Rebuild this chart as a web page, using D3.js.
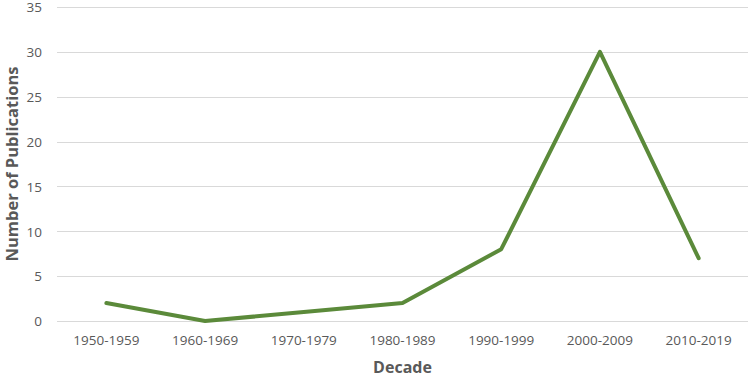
<!DOCTYPE html>
<html>
<head>
<meta charset="utf-8">
<script src="https://cdn.jsdelivr.net/npm/d3@7"></script>
<style>
  body { margin: 0; background: #fff; }
  text { font-family: "Open Sans", "Noto Sans", sans-serif; fill: #595959; }
</style>
</head>
<body>
<div id="chart"></div>
<script>
// data
const decades = ["1950-1959", "1960-1969", "1970-1979", "1980-1989", "1990-1999", "2000-2009", "2010-2019"];
const publications = [2, 0, 1, 2, 8, 30, 7];
const yTicks = [0, 5, 10, 15, 20, 25, 30, 35];

const width = 750, height = 378;
const margin = { top: 7, right: 2, bottom: 57, left: 57 };

const svg = d3.select("#chart").append("svg")
    .attr("width", width)
    .attr("height", height);

const x = d3.scaleBand()
    .domain(decades)
    .range([margin.left, width - margin.right]);

const y = d3.scaleLinear()
    .domain([0, 35])
    .range([height - margin.bottom, margin.top]);

// gridlines
svg.append("g")
    .selectAll("line")
    .data(yTicks)
    .join("line")
    .attr("x1", margin.left)
    .attr("x2", width - margin.right)
    .attr("y1", d => Math.round(y(d)) + 0.5)
    .attr("y2", d => Math.round(y(d)) + 0.5)
    .attr("stroke", "#d9d9d9")
    .attr("stroke-width", 1);

// y tick labels
svg.append("g")
    .selectAll("text")
    .data(yTicks)
    .join("text")
    .attr("x", 42)
    .attr("y", d => y(d) + 0.5)
    .attr("dy", "0.35em")
    .attr("text-anchor", "end")
    .style("font-size", "13.5px")
    .text(d => d);

// x tick labels
svg.append("g")
    .selectAll("text")
    .data(decades)
    .join("text")
    .attr("x", d => x(d) + x.bandwidth() / 2)
    .attr("y", 340)
    .attr("dy", "0.35em")
    .attr("text-anchor", "middle")
    .style("font-size", "13.5px")
    .text(d => d);

// line
const line = d3.line()
    .x((d, i) => x(decades[i]) + x.bandwidth() / 2)
    .y(d => y(d));

svg.append("path")
    .datum(publications)
    .attr("d", line)
    .attr("fill", "none")
    .attr("stroke", "#5b8a3a")
    .attr("stroke-width", 4)
    .attr("stroke-linejoin", "round")
    .attr("stroke-linecap", "round");

// axis titles
svg.append("text")
    .attr("x", (margin.left + width - margin.right) / 2)
    .attr("y", 367)
    .attr("dy", "0.35em")
    .attr("text-anchor", "middle")
    .style("font-size", "16px")
    .style("font-weight", "bold")
    .text("Decade");

svg.append("text")
    .attr("transform", `translate(12,${(margin.top + height - margin.bottom) / 2}) rotate(-90)`)
    .attr("dy", "0.35em")
    .attr("text-anchor", "middle")
    .style("font-size", "16.5px")
    .style("font-weight", "bold")
    .text("Number of Publications");
</script>
</body>
</html>
